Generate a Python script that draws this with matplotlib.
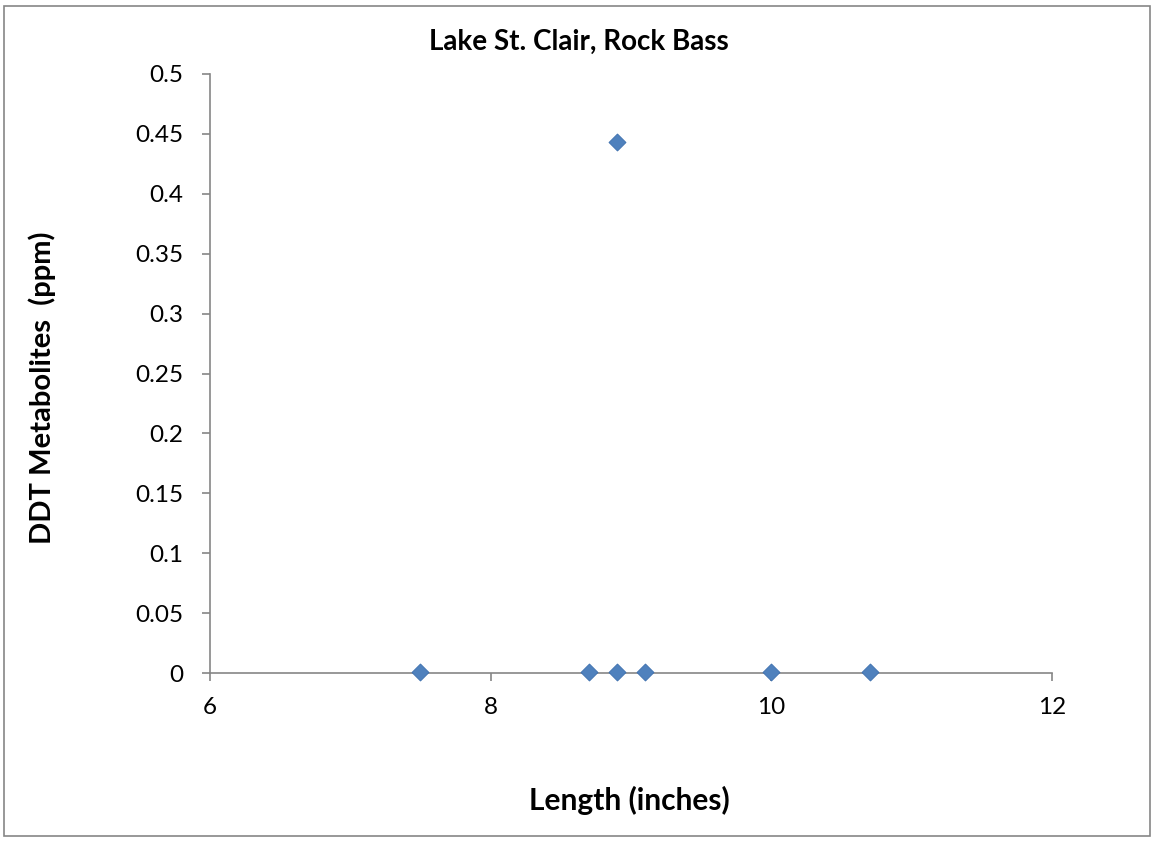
import matplotlib
matplotlib.use("Agg")
import matplotlib.pyplot as plt
from matplotlib.patches import Rectangle

length_in = [7.5, 8.7, 8.9, 8.9, 9.1, 10.0, 10.7]
ddt_ppm = [0.001, 0.001, 0.001, 0.443, 0.001, 0.001, 0.001]
x_ticks = [6, 8, 10, 12]
y_ticks = [0, 0.05, 0.1, 0.15, 0.2, 0.25, 0.3, 0.35, 0.4, 0.45, 0.5]
y_tick_labels = ["0", "0.05", "0.1", "0.15", "0.2", "0.25", "0.3", "0.35", "0.4", "0.45", "0.5"]

plt.rcParams['font.family'] = ['Lato', 'DejaVu Sans']

W, H = 1156, 842
fig = plt.figure(figsize=(W / 100, H / 100), dpi=100)
fig.patches.append(Rectangle((4 / W, 6 / H), 1146 / W, 830 / H, transform=fig.transFigure,
                             fill=False, edgecolor='#868686', linewidth=1.2))
ax = fig.add_axes([210 / W, 1 - 673 / H, (1052 - 210) / W, (673 - 74) / H])

ax.scatter(length_in, ddt_ppm, marker='D', s=75, color='#4F81BD', edgecolors='#3C6FAE',
           linewidths=0.6, zorder=3, clip_on=False)

ax.set_xlim(6, 12)
ax.set_ylim(0, 0.5)
ax.set_xticks(x_ticks)
ax.set_xticklabels([str(t) for t in x_ticks])
ax.set_yticks(y_ticks)
ax.set_yticklabels(y_tick_labels)
for s in ['top', 'right']:
    ax.spines[s].set_visible(False)
for s in ['left', 'bottom']:
    ax.spines[s].set_color('#868686')
    ax.spines[s].set_linewidth(1.2)
ax.tick_params(axis='both', direction='out', length=6, width=1.2, color='#868686',
               labelsize=17.5, labelcolor='black')
ax.tick_params(axis='x', pad=11)
ax.tick_params(axis='y', pad=13)

fig.text(579 / W, 1 - 42 / H, "Lake St. Clair, Rock Bass", fontsize=20, fontweight='bold',
         ha='center', va='center')
fig.text(629 / W, 1 - 800 / H, "Length (inches)", fontsize=21.5, fontweight='bold',
         ha='center', va='center')
fig.text(42 / W, 1 - 388 / H, "DDT Metabolites  (ppm)", fontsize=21, fontweight='bold',
         ha='center', va='center', rotation=90)

fig.savefig("out.png", dpi=100)
